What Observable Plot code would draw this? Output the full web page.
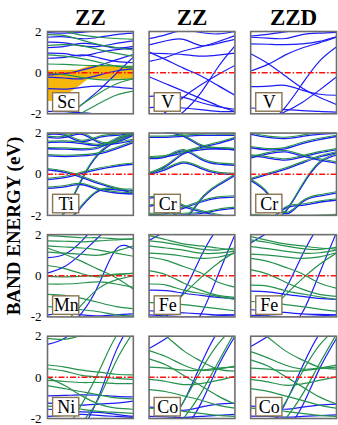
<!DOCTYPE html>
<html><head><meta charset="utf-8">
<script src="https://cdn.jsdelivr.net/npm/d3@7"></script>
<script src="https://cdn.jsdelivr.net/npm/@observablehq/plot@0.6"></script>
<style>body{margin:0;background:#fff}svg{display:block}svg text{font-family:"Liberation Serif","Times New Roman",serif !important}</style>
</head><body><div id="chart"></div>
<script>
const colTitles = ["ZZ", "ZZ", "ZZD"];
const yTicks = [-2, 0, 2];
const yLabel = "BAND ENERGY (eV)";
const kGrid = [0, 0.2, 0.4, 0.6, 0.8, 1];

// Sc (ZZ)
const scBlue = [
  [1.95, 1.92, 1.96, 2.05, 2.1, 2.1],
  [1.72, 1.74, 1.65, 1.72, 1.85, 1.92],
  [1.48, 1.45, 1.30, 1.28, 1.42, 1.55],
  [1.22, 1.28, 1.42, 1.35, 1.20, 1.28],
  [0.95, 0.92, 0.82, 0.98, 1.12, 1.18],
  [0.70, 0.74, 0.86, 0.72, 0.55, 0.48],
  [-0.12, -0.05, 0.12, 0.35, 0.62, 0.88],
  [-0.22, -0.26, -0.30, -0.12, 0.08, 0.18],
  [-0.78, -0.80, -0.72, -0.66, -0.70, -0.78],
  [-2.6, -2.2, -1.55, -0.85, -0.05, 0.75],
  [-1.88, -1.90, -1.95, -2.0, -2.02, -2.05]
];
const scGreen = [
  [2.15, 2.0, 1.82, 1.72, 1.66, 1.62],
  [1.85, 1.80, 1.58, 1.36, 1.22, 1.10],
  [1.32, 1.36, 1.30, 1.12, 0.94, 0.80],
  [0.86, 0.80, 0.68, 0.50, 0.32, 0.22],
  [0.42, 0.40, 0.36, 0.34, 0.33, 0.30],
  [-0.04, -0.10, -0.24, -0.34, -0.34, -0.30],
  [-2.7, -2.15, -1.55, -1.0, -0.55, -0.30],
  [-2.5, -2.3, -1.95, -1.5, -1.1, -0.9]
];
const scFillK = [0, 0.1, 0.35, 0.48, 1];
const scFillTop = [0.08, 0.1, 0.12, 0.3, 0.3];
const scFillBottom = [-1.4, -1.4, -0.75, -0.32, -0.32];

// V (ZZ)
const vBlue = [
  [1.65, 1.85, 2.05, 1.95, 1.88, 2.0],
  [1.35, 1.55, 1.62, 1.32, 1.42, 1.62],
  [0.95, 0.92, 0.88, 0.80, 0.85, 0.95],
  [1.0, 0.62, 0.22, -0.15, -0.62, -1.1],
  [-0.2, -0.55, -0.9, -1.25, -1.6, -1.9],
  [-2.6, -2.4, -1.9, -1.0, 0.25, 1.3],
  [0.55, 0.75, 1.05, 1.25, 1.5, 1.8],
  [-1.15, -1.12, -1.2, -1.45, -1.65, -1.78],
  [-1.7, -1.68, -1.72, -1.8, -1.88, -1.9],
  [-2.3, -1.9, -1.2, -0.6, -0.1, 0.35]
];
// V (ZZD)
const vdBlue = [
  [1.72, 1.68, 1.66, 1.85, 1.92, 1.96],
  [1.78, 1.86, 1.98, 2.1, 2.2, 2.3],
  [1.40, 1.38, 1.36, 1.40, 1.52, 1.75],
  [0.92, 0.45, -0.15, -0.75, -1.2, -1.55],
  [0.08, 0.40, 0.85, 1.20, 1.45, 1.72],
  [-3.0, -2.5, -1.7, -0.55, 0.55, 1.25],
  [-0.68, -0.66, -0.62, -0.85, -1.05, -1.10],
  [-1.72, -1.75, -1.80, -1.85, -1.88, -1.92],
  [-2.4, -2.2, -1.9, -1.45, -0.85, -0.2]
];
// Ti (ZZ), both spins nearly equal
const tiBands = [
  [2.0, 1.95, 1.65, 1.85, 1.95, 2.05],
  [1.85, 1.85, 2.0, 1.6, 1.55, 1.7],
  [1.6, 1.62, 1.55, 1.45, 1.6, 1.95],
  [1.3, 1.28, 1.25, 1.35, 1.75, 2.0],
  [0.95, 0.92, 0.95, 1.05, 1.3, 1.6],
  [-2.6, -1.8, -0.2, 1.05, 1.65, 2.0],
  [0.28, 0.15, -0.1, -0.4, -0.65, -0.85],
  [-0.2, -0.1, 0.1, 0.3, 0.45, 0.55],
  [-0.62, -0.55, -0.45, -0.7, -0.85, -0.9],
  [-2.8, -2.4, -1.5, -0.75, -0.7, -0.72]
];
// Cr (ZZ)
const crBands = [
  [1.85, 1.86, 1.9, 1.95, 1.95, 1.95],
  [2.3, 2.1, 1.9, 1.45, 1.3, 1.25],
  [0.85, 0.92, 1.1, 1.35, 1.55, 1.8],
  [0.82, 0.9, 1.2, 0.8, 0.55, 0.5],
  [0.08, 0.45, 1.05, 1.25, 1.3, 1.25],
  [0.05, 0.3, 0.6, 0.35, 0.1, 0.05],
  [-1.5, -1.55, -2.1, -1.2, -0.5, 0.0],
  [-1.9, -1.85, -1.6, -1.3, -1.1, -1.05],
  [-1.95, -1.95, -1.9, -1.85, -1.7, -1.6],
  [-1.1, -1.1, -1.5, -1.75, -1.95, -2.1]
];
// Cr (ZZD)
const crdBands = [
  [2.0, 1.85, 1.8, 1.9, 2.0, 2.05],
  [1.35, 1.25, 1.3, 1.55, 1.75, 1.9],
  [0.85, 1.05, 1.15, 0.95, 0.75, 0.6],
  [0.95, 0.85, 0.75, 0.9, 1.1, 1.25],
  [-0.25, -0.9, -1.85, -1.3, -1.0, -0.85],
  [-0.2, 0.05, 0.3, 0.6, 0.9, 1.1],
  [-2.8, -2.4, -1.8, -0.5, 0.6, 1.0],
  [-2.6, -2.3, -1.6, -1.45, -1.3, -1.2],
  [-1.95, -1.98, -2.0, -2.0, -1.98, -1.95]
];
// Mn (ZZ)
const mnBlue = [
  [0.88, 1.05, 1.7, 2.6, 3.2, 3.5],
  [0.13, 0.45, 1.1, 1.9, 2.6, 3.2],
  [-3.2, -2.6, -1.8, -0.4, 1.3, 1.3],
  [-1.9, -1.85, -1.9, -1.95, -1.9, -1.85]
];
const mnGreen = [
  [1.95, 1.9, 1.85, 1.85, 1.8, 1.78],
  [1.7, 1.68, 1.65, 1.7, 1.75, 1.8],
  [1.45, 1.4, 1.35, 1.25, 1.1, 0.95],
  [1.15, 1.1, 1.05, 1.0, 1.2, 1.45],
  [1.35, 1.05, 0.7, 0.3, -0.1, -0.65],
  [0.5, 0.35, 0.1, -0.05, 0.05, 0.12],
  [-0.03, -0.05, -0.02, 0.02, 0.08, 0.12],
  [-0.4, -0.4, -0.35, -0.3, -0.4, -0.55],
  [-3.0, -2.3, -1.4, -0.6, -0.2, 0.0],
  [-0.9, -0.95, -1.1, -1.3, -1.5, -1.6],
  [-1.5, -1.55, -1.65, -1.75, -1.9, -1.95]
];
// Fe (ZZ)
const feBlue = [
  [1.72, 2.2, 2.8, 3.3, 3.6, 3.8],
  [-3.4, -2.0, -0.8, 0.9, 2.3, 3.0],
  [-3.8, -3.3, -2.8, -1.9, 0.0, 2.0],
  [-0.7, -0.72, -0.85, -0.95, -1.05, -1.1],
  [-1.7, -1.75, -1.8, -1.85, -1.9, -1.9],
  [-1.9, -1.95, -1.98, -2.0, -1.95, -1.9]
];
const feGreen = [
  [1.95, 1.75, 1.55, 1.45, 1.35, 1.25],
  [1.45, 1.35, 1.25, 1.1, 1.1, 1.2],
  [1.7, 1.6, 1.45, 1.3, 1.25, 1.35],
  [0.9, 0.75, 0.45, 0.15, -0.3, -0.55],
  [0.25, 0.05, -0.35, -0.7, -0.95, -1.05],
  [-2.8, -1.8, -0.9, -0.1, 0.6, 1.15],
  [-0.4, -0.45, -0.7, -0.85, -1.0, -1.15],
  [-1.3, -1.35, -1.4, -1.5, -1.6, -1.7],
  [1.1, 1.05, 0.95, 0.85, 0.9, 1.1]
];
// Fe (ZZD)
const fedBlue = [
  [1.6, 2.1, 2.7, 3.2, 3.5, 3.7],
  [-3.3, -1.9, -0.7, 1.0, 2.4, 3.0],
  [-3.8, -3.3, -2.7, -1.8, 0.1, 2.1],
  [-0.75, -0.78, -0.9, -1.0, -1.1, -1.15],
  [-1.65, -1.7, -1.78, -1.85, -1.88, -1.9],
  [-1.92, -1.95, -1.98, -1.98, -1.95, -1.9]
];
const fedGreen = [
  [1.9, 1.72, 1.55, 1.45, 1.35, 1.3],
  [1.42, 1.32, 1.2, 1.1, 1.12, 1.25],
  [1.75, 1.62, 1.45, 1.32, 1.28, 1.38],
  [0.85, 0.7, 0.42, 0.1, -0.35, -0.6],
  [0.3, 0.08, -0.3, -0.65, -0.9, -1.0],
  [-2.8, -1.85, -0.95, -0.15, 0.55, 1.1],
  [-0.45, -0.5, -0.72, -0.88, -1.02, -1.15],
  [-1.25, -1.3, -1.4, -1.5, -1.62, -1.72],
  [1.05, 1.0, 0.92, 0.85, 0.92, 1.12]
];
// Ni (ZZ)
const niBlue = [
  [1.6, 1.9, 2.6, 3.2, 3.5, 3.6],
  [-4.0, -3.3, -2.5, -0.9, 1.3, 2.8],
  [-0.9, -0.88, -0.85, -0.87, -0.92, -0.95],
  [-1.25, -1.3, -1.35, -1.3, -1.25, -1.15],
  [-1.55, -1.6, -1.68, -1.7, -1.8, -1.9],
  [-1.9, -1.85, -1.8, -1.85, -1.9, -1.95]
];
const niGreen = [
  [0.6, 0.5, 0.35, 0.25, 0.15, 0.12],
  [0.42, 0.3, 0.1, 0.02, -0.05, -0.1],
  [-0.15, -0.2, -0.25, -0.25, -0.3, -0.3],
  [-0.4, -0.55, -0.7, -0.85, -1.0, -1.05],
  [-3.2, -2.6, -1.3, 0.3, 2.0, 2.8],
  [-3.5, -3.0, -2.2, -1.0, 0.8, 2.2],
  [1.9, 1.85, 2.05, 2.3, 2.5, 2.6],
  [0.0, -0.4, -0.9, -1.3, -1.5, -1.55],
  [-1.4, -1.45, -1.55, -1.65, -1.7, -1.75]
];
// Co (ZZ)
const coBlue = [
  [1.4, 1.9, 2.5, 3.0, 3.3, 3.5],
  [-3.0, -2.4, -1.2, 0.6, 2.2, 3.0],
  [-4.0, -3.5, -2.6, -1.3, 0.5, 2.0],
  [-1.45, -1.5, -1.6, -1.45, -1.3, -1.25],
  [-1.9, -1.92, -1.95, -1.9, -1.85, -1.8]
];
const coGreen = [
  [2.6, 2.0, 1.3, 0.8, 0.4, 0.3],
  [1.3, 1.0, 0.6, 0.35, 0.4, 0.55],
  [0.5, 0.45, 0.35, 0.35, 0.45, 0.5],
  [-0.1, -0.2, -0.35, -0.3, -0.15, 0.05],
  [0.9, 0.6, 0.1, -0.4, -0.9, -1.3],
  [-0.6, -0.7, -0.9, -1.1, -1.35, -1.5],
  [-3.0, -2.4, -1.2, 0.3, 1.6, 2.5],
  [-3.3, -2.9, -2.0, -0.8, 0.7, 2.2],
  [-1.5, -1.55, -1.65, -1.75, -1.85, -1.9]
];
// Co (ZZD)
const codBlue = [
  [1.5, 2.0, 2.6, 3.0, 3.3, 3.5],
  [-3.1, -2.5, -1.3, 0.5, 2.1, 3.0],
  [-4.0, -3.6, -2.7, -1.4, 0.4, 1.9],
  [-1.4, -1.45, -1.55, -1.45, -1.35, -1.3],
  [-1.88, -1.9, -1.93, -1.9, -1.86, -1.82]
];
const codGreen = [
  [2.5, 1.95, 1.3, 0.85, 0.5, 0.4],
  [1.25, 0.95, 0.6, 0.4, 0.45, 0.6],
  [0.45, 0.4, 0.32, 0.32, 0.42, 0.5],
  [-0.1, -0.22, -0.38, -0.32, -0.15, 0.02],
  [0.85, 0.55, 0.05, -0.45, -0.95, -1.3],
  [-0.55, -0.68, -0.9, -1.12, -1.35, -1.5],
  [-3.0, -2.4, -1.25, 0.25, 1.55, 2.4],
  [-3.3, -2.9, -2.05, -0.85, 0.65, 2.1],
  [-1.5, -1.55, -1.65, -1.75, -1.85, -1.9]
];

const panels = [
  {name: "Sc", col: 0, row: 0, blue: scBlue, green: scGreen, twin: false},
  {name: "V",  col: 1, row: 0, blue: vBlue, green: [], twin: false},
  {name: "V",  col: 2, row: 0, blue: vdBlue, green: [], twin: false},
  {name: "Ti", col: 0, row: 1, blue: tiBands, green: tiBands, twin: true},
  {name: "Cr", col: 1, row: 1, blue: crBands, green: crBands, twin: true},
  {name: "Cr", col: 2, row: 1, blue: crdBands, green: crdBands, twin: true},
  {name: "Mn", col: 0, row: 2, blue: mnBlue, green: mnGreen, twin: false},
  {name: "Fe", col: 1, row: 2, blue: feBlue, green: feGreen, twin: false},
  {name: "Fe", col: 2, row: 2, blue: fedBlue, green: fedGreen, twin: false},
  {name: "Ni", col: 0, row: 3, blue: niBlue, green: niGreen, twin: false},
  {name: "Co", col: 1, row: 3, blue: coBlue, green: coGreen, twin: false},
  {name: "Co", col: 2, row: 3, blue: codBlue, green: codGreen, twin: false}
];

const rows = [];
panels.forEach((p, pi) => {
  [["up", p.blue], ["down", p.green]].forEach(([spin, bands]) => {
    bands.forEach((b, bi) => b.forEach((E, i) => rows.push({
      col: p.col, row: p.row, spin, twin: p.twin, band: `${pi}-${spin}-${bi}`, k: kGrid[i], E
    })));
  });
});
const fillRows = scFillK.map((k, i) => ({col: 0, row: 0, k, hi: scFillTop[i], lo: scFillBottom[i]}));

const BLUE = "#1c1cf5", GREEN = "#24924c";
const serif = "Liberation Serif";
const lineOpts = {x: "k", y: "E", z: "band", fx: "col", fy: "row", strokeWidth: 1.2, curve: "natural", clip: true};

const chart = Plot.plot({
  width: 338, height: 425,
  marginLeft: 47, marginRight: 2, marginTop: 31, marginBottom: 7,
  style: {background: "white"},
  fx: {domain: [0, 1, 2], paddingInner: 0.155, paddingOuter: 0, round: false},
  fy: {domain: [0, 1, 2, 3], paddingInner: 0.19, paddingOuter: 0, round: false, axis: null},
  x: {domain: [0, 1], axis: null},
  y: {domain: [-2, 2]},
  marks: [
    Plot.areaY(fillRows, {x: "k", y1: "lo", y2: "hi", fx: "col", fy: "row", fill: "#f6b60a", curve: "linear"}),
    Plot.line(rows.filter(d => d.spin === "up" && !d.twin), {...lineOpts, stroke: BLUE}),
    Plot.line(rows.filter(d => d.spin === "down" && !d.twin), {...lineOpts, stroke: GREEN}),
    Plot.line(rows.filter(d => d.spin === "up" && d.twin), {...lineOpts, stroke: BLUE, dy: 1.3, strokeWidth: 1.3}),
    Plot.line(rows.filter(d => d.spin === "down" && d.twin), {...lineOpts, stroke: GREEN, strokeWidth: 1.1}),
    Plot.ruleY([0], {stroke: "#ff1010", strokeWidth: 1.5, strokeDasharray: "6,2,1.5,2"}),
    Plot.frame({stroke: "#6e6e6e", strokeWidth: 1.6}),
    Plot.rect(panels, {x1: () => 0.065, x2: () => 0.37, y1: () => -1.0, y2: () => -1.9, fx: "col", fy: "row", fill: "white", stroke: "#8b7550", strokeWidth: 1.4}),
    Plot.text(panels, {x: () => 0.2175, y: () => -1.45, text: "name", fx: "col", fy: "row", fontSize: 18, fontFamily: serif, fill: "black"}),
    Plot.axisFx({anchor: "top", tickFormat: i => colTitles[i], fontSize: 23, fontWeight: "bold", fontFamily: serif, tickPadding: 7, label: null, fill: "black"}),
    Plot.axisY({ticks: yTicks, tickSize: 0, tickPadding: 6, tickFormat: d => String(d), fontSize: 13, fontFamily: serif, label: null, fill: "black"})
  ]
});
document.getElementById("chart").appendChild(chart);
d3.select(chart).append("text")
  .attr("transform", "translate(16,226) rotate(-90)")
  .attr("text-anchor", "middle")
  .attr("dominant-baseline", "middle")
  .attr("font-family", serif)
  .attr("font-weight", "bold")
  .attr("font-size", 19)
  .attr("fill", "black")
  .text(yLabel);
</script></body></html>
